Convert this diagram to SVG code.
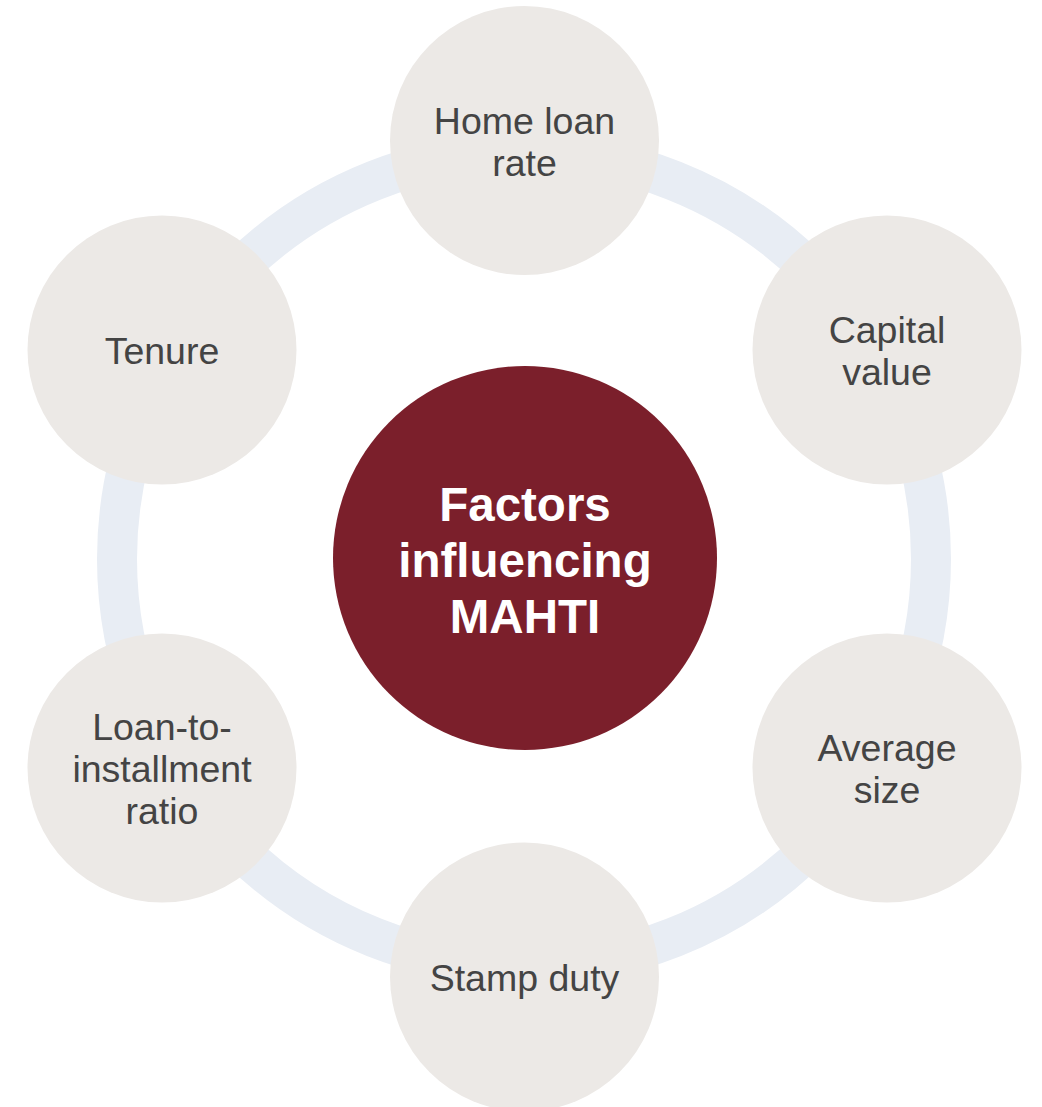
<svg xmlns="http://www.w3.org/2000/svg" width="1042" height="1107" viewBox="0 0 1042 1107">
<style>
.ring{fill:none;stroke:#E8EDF4;stroke-width:40}
.outer{fill:#ECE9E6}
.lbl{font-family:"Liberation Sans",Arial,sans-serif;font-size:37.5px;fill:#444444;text-anchor:middle}
.ctr{font-family:"Liberation Sans",Arial,sans-serif;font-size:47.5px;font-weight:bold;fill:#FFFFFF;text-anchor:middle}
</style>
<rect width="1042" height="1107" fill="#FFFFFF"/>
<g id="connectors">
<circle class="ring" cx="524" cy="559" r="407"/>
</g>
<g id="center">
<circle cx="525" cy="558" r="192" fill="#7B1F2B"/>
<text class="ctr" x="525" y="521">Factors</text>
<text class="ctr" x="525" y="577">influencing</text>
<text class="ctr" x="525" y="633">MAHTI</text>
</g>
<g id="home-loan-rate">
<circle class="outer" cx="524.5" cy="140.5" r="134.5"/>
<text class="lbl" x="524.5" y="134">Home loan</text>
<text class="lbl" x="524.5" y="176">rate</text>
</g>
<g id="capital-value">
<circle class="outer" cx="887" cy="350" r="134.5"/>
<text class="lbl" x="887" y="343">Capital</text>
<text class="lbl" x="887" y="385">value</text>
</g>
<g id="average-size">
<circle class="outer" cx="887" cy="768" r="134.5"/>
<text class="lbl" x="887" y="761">Average</text>
<text class="lbl" x="887" y="803">size</text>
</g>
<g id="stamp-duty">
<circle class="outer" cx="524.5" cy="977" r="134.5"/>
<text class="lbl" x="524.5" y="991">Stamp duty</text>
</g>
<g id="loan-to-installment-ratio">
<circle class="outer" cx="162" cy="768" r="134.5"/>
<text class="lbl" x="162" y="740">Loan-to-</text>
<text class="lbl" x="162" y="782">installment</text>
<text class="lbl" x="162" y="824">ratio</text>
</g>
<g id="tenure">
<circle class="outer" cx="162" cy="350" r="134.5"/>
<text class="lbl" x="162" y="364">Tenure</text>
</g>
</svg>
